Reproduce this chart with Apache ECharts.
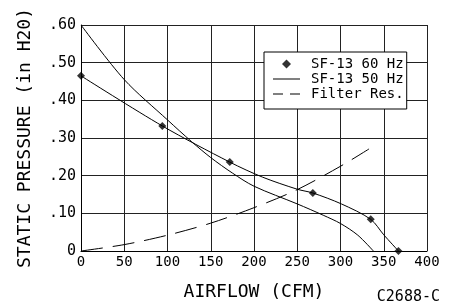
<!DOCTYPE html>
<html>
<head>
<meta charset="utf-8">
<script src="https://cdn.jsdelivr.net/npm/echarts@6/dist/echarts.min.js"></script>
<style>
  html, body { margin: 0; padding: 0; background: #fff; }
  #chart { width: 454px; height: 306px; }
</style>
</head>
<body>
<div id="chart"></div>
<script>
// SF-13 at 60 Hz: the marked test points
const hz60Markers = [[0, 0.465], [94, 0.332], [172, 0.236], [268, 0.154], [335, 0.084], [367, 0]];
// SF-13 at 60 Hz: curve through the markers, with extra readings in between
const hz60Curve = [[0, 0.465], [94, 0.332], [172, 0.236], [210, 0.196], [250, 0.164], [268, 0.154],
  [301, 0.125], [335, 0.084], [350, 0.043], [367, 0]];
// SF-13 at 50 Hz
const hz50Curve = [[0, 0.60], [50, 0.455], [100, 0.348], [128, 0.29], [150, 0.248], [175, 0.207],
  [200, 0.172], [250, 0.125], [280, 0.095], [300, 0.073], [320, 0.042], [338, 0]];
// Filter resistance
const filterCurve = [[0, 0], [50, 0.017], [100, 0.042], [150, 0.074], [200, 0.115], [250, 0.163],
  [300, 0.225], [333, 0.271]];

const yTickLabels = { 0: '0', 0.1: '.10', 0.2: '.20', 0.3: '.30', 0.4: '.40', 0.5: '.50', 0.6: '.60' };

const FONT = 'DejaVu Sans Mono';
// legend icons as filled paths so they keep their shape
const ICON_DIAMOND = 'path://M0,-1L1,0L0,1L-1,0Z';
const ICON_SOLID = 'path://M0,0h27v1h-27z';
const ICON_DASHED = 'path://M0,0h10v1h-10zM17,0h10v1h-10z';

const chart = echarts.init(document.getElementById('chart'));

chart.setOption({
  animation: false,
  backgroundColor: '#fff',
  grid: { left: 81, right: 27, top: 25, bottom: 51 },
  title: {
    text: 'C2688-C',
    right: 9,
    top: 285,
    textStyle: { fontFamily: FONT, fontSize: 15, fontWeight: 'normal', color: '#000' }
  },
  legend: {
    orient: 'vertical',
    left: 264,
    top: 52,
    padding: [5, 3, 8, 9],
    itemWidth: 27,
    itemHeight: 9,
    itemGap: 1,
    backgroundColor: '#fff',
    borderColor: '#000',
    borderWidth: 1,
    borderRadius: 0,
    itemStyle: { color: '#000', borderWidth: 0 },
    textStyle: { fontFamily: FONT, fontSize: 14, color: '#000', padding: [0, 0, 0, 6] },
    data: [
      { name: 'SF-13 60 Hz', icon: ICON_DIAMOND },
      { name: 'SF-13 50 Hz', icon: ICON_SOLID },
      { name: 'Filter Res.', icon: ICON_DASHED }
    ]
  },
  xAxis: {
    type: 'value',
    min: 0,
    max: 400,
    interval: 50,
    name: 'AIRFLOW (CFM)',
    nameLocation: 'middle',
    nameGap: 32,
    nameTextStyle: { fontFamily: FONT, fontSize: 18, color: '#000' },
    axisLine: { show: true, lineStyle: { color: '#000', width: 1 } },
    axisTick: { show: false },
    axisLabel: { fontFamily: FONT, fontSize: 14, color: '#000', margin: 4 },
    splitLine: { show: true, lineStyle: { color: '#222', width: 1 } }
  },
  yAxis: {
    type: 'value',
    min: 0,
    max: 0.6,
    interval: 0.1,
    name: 'STATIC PRESSURE (in H20)',
    nameLocation: 'middle',
    nameGap: 47,
    nameTextStyle: { fontFamily: FONT, fontSize: 18, color: '#000' },
    axisLine: { show: true, lineStyle: { color: '#000', width: 1 } },
    axisTick: { show: false },
    axisLabel: {
      fontFamily: FONT, fontSize: 15, color: '#000', margin: 5,
      formatter: v => yTickLabels[Math.round(v * 10) / 10]
    },
    splitLine: { show: true, lineStyle: { color: '#222', width: 1 } }
  },
  series: [
    {
      name: 'SF-13 60 Hz',
      type: 'scatter',
      symbol: 'diamond',
      symbolSize: 8,
      itemStyle: { color: '#000' },
      data: hz60Markers,
      z: 5
    },
    {
      name: '60 Hz curve',
      type: 'line',
      smooth: 0.3,
      symbol: 'none',
      lineStyle: { color: '#000', width: 1 },
      data: hz60Curve
    },
    {
      name: 'SF-13 50 Hz',
      type: 'line',
      smooth: 0.3,
      symbol: 'none',
      itemStyle: { color: '#000' },
      lineStyle: { color: '#000', width: 1 },
      data: hz50Curve
    },
    {
      name: 'Filter Res.',
      type: 'line',
      smooth: 0.3,
      symbol: 'none',
      itemStyle: { color: '#000' },
      lineStyle: { color: '#000', width: 1, type: [22, 10] },
      data: filterCurve
    }
  ]
});
</script>
</body>
</html>
